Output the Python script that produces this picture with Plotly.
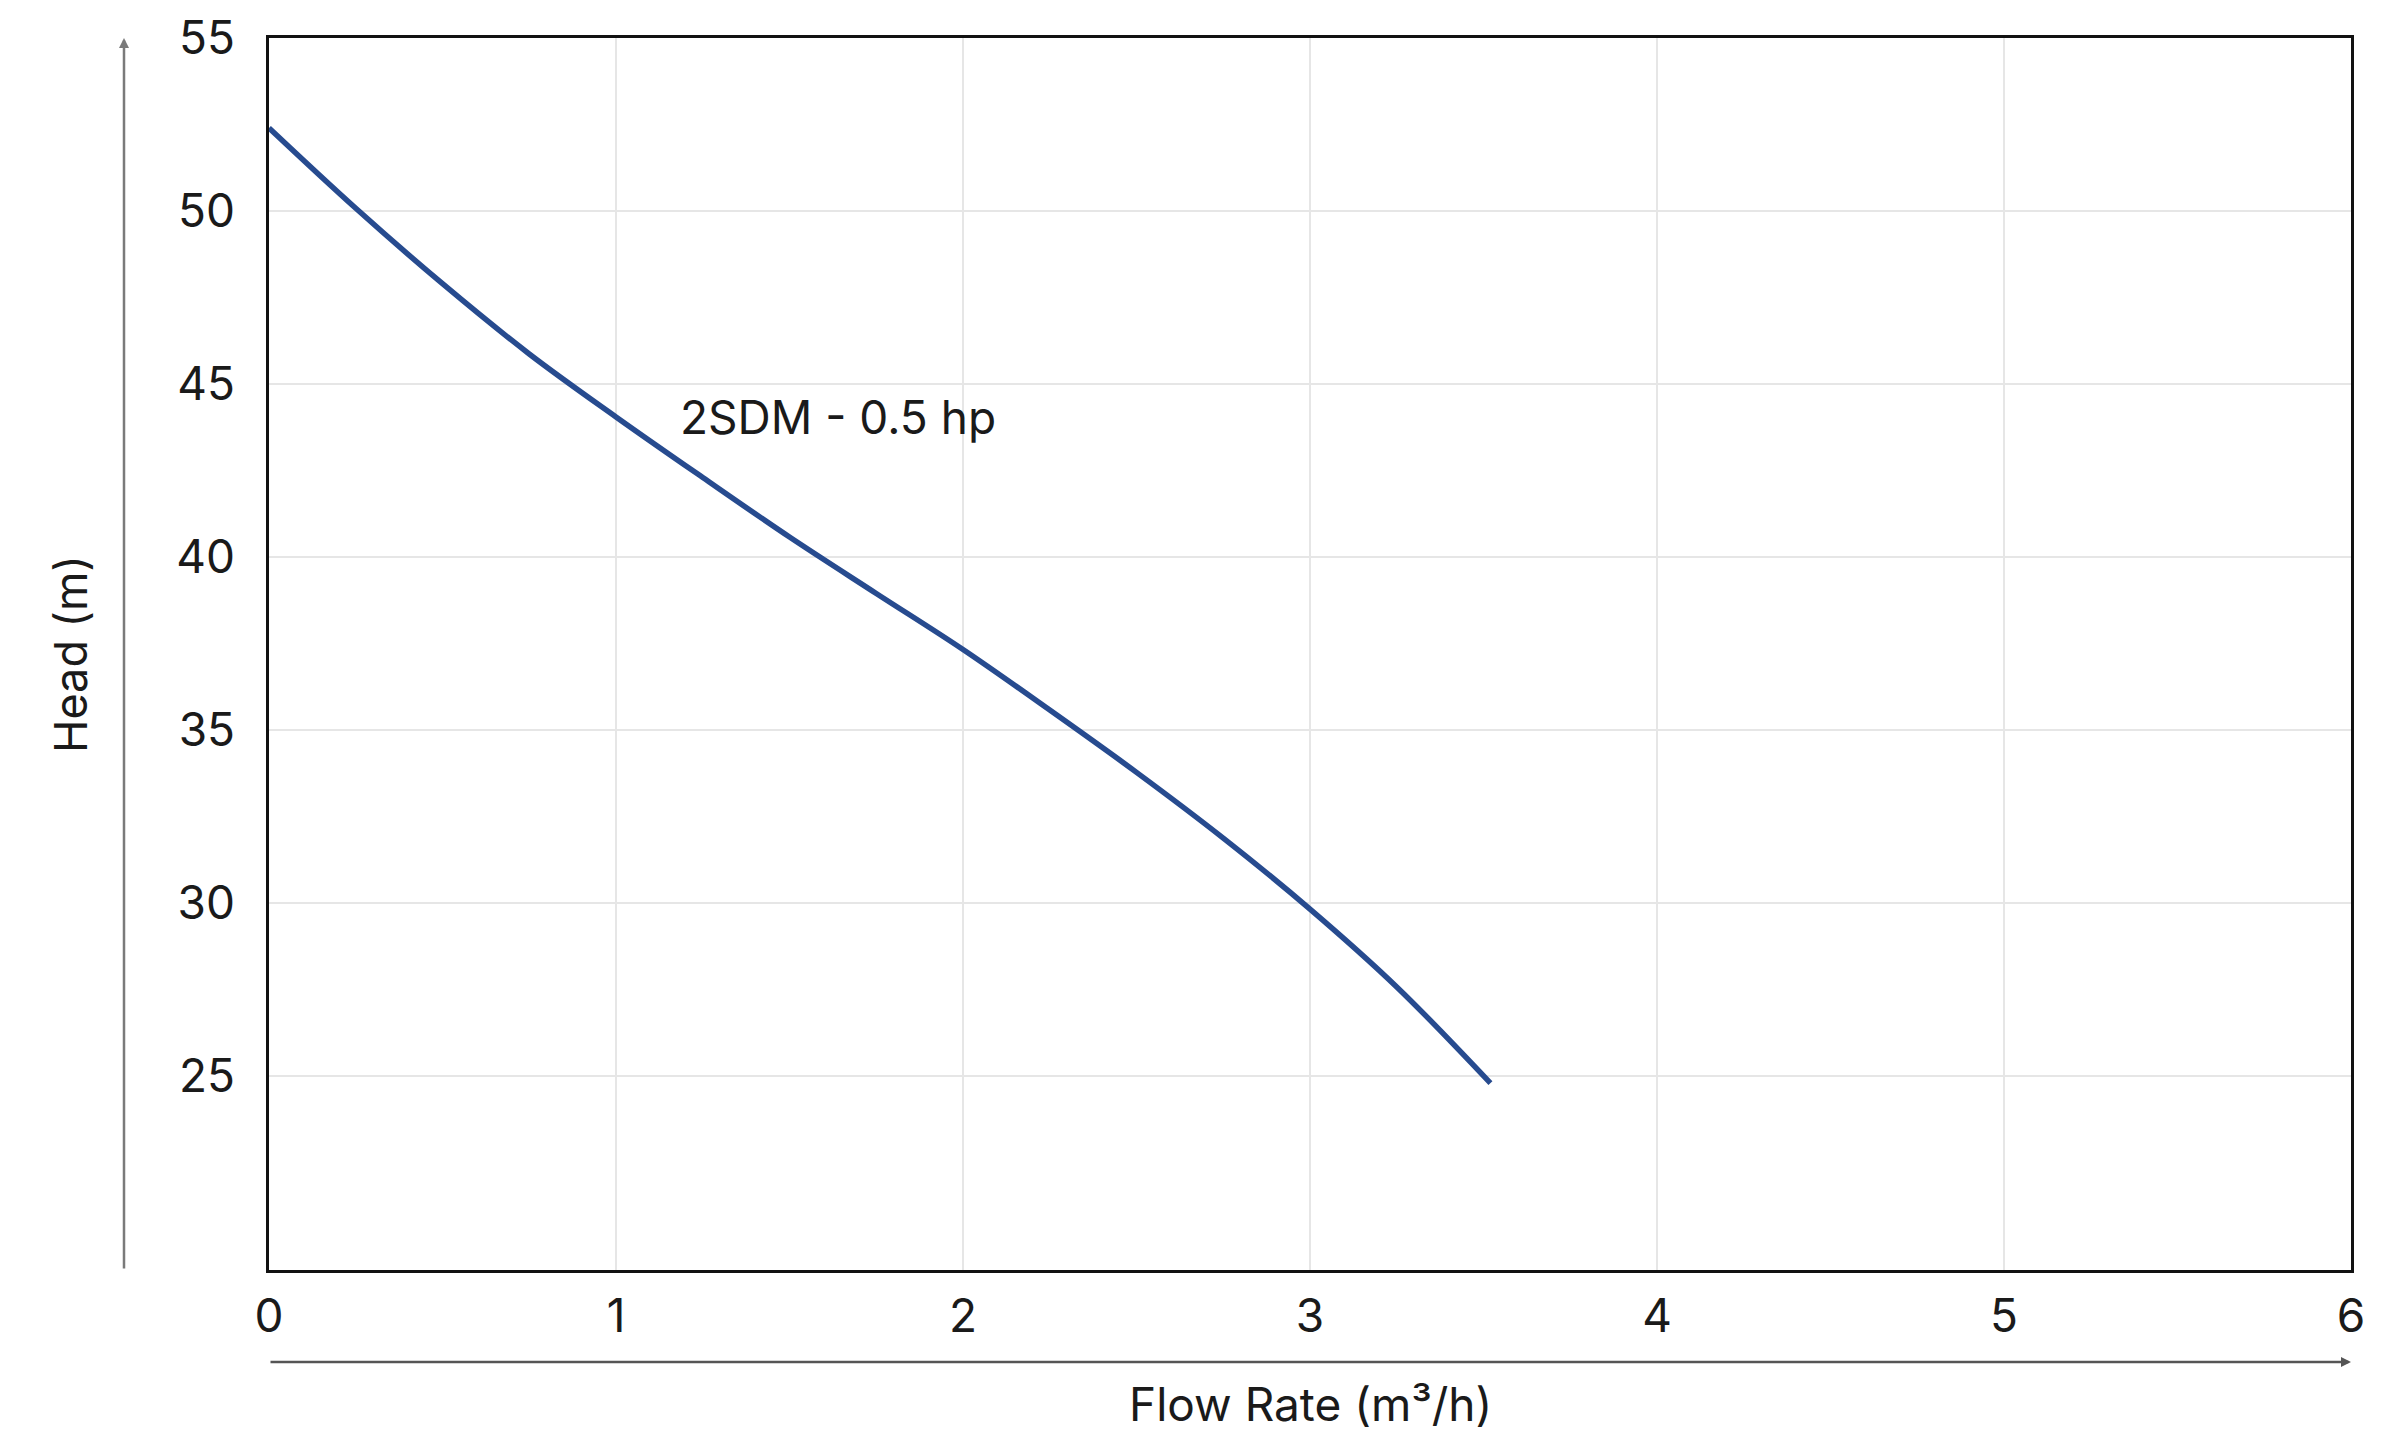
import plotly.graph_objects as go

# Data
flow = [0, 0.25, 0.5, 0.75, 1.0, 1.25, 1.5, 1.75, 2.0, 2.25, 2.5, 2.75, 3.0, 3.25, 3.52]
head = [52.4, 50.08, 47.9, 45.87, 44.05, 42.3, 40.58, 38.95, 37.33, 35.58, 33.78, 31.88, 29.83, 27.58, 24.8]
series_name = "2SDM - 0.5 hp"
x_ticks = [0, 1, 2, 3, 4, 5, 6]
y_ticks = [25, 30, 35, 40, 45, 50, 55]

W, H = 2388, 1437
L, R, T, B = 261, 45, 30, 175
FONT = "Inter"
TXT = "#1a1a1a"

fig = go.Figure()
fig.add_trace(go.Scatter(
    x=flow, y=head, mode="lines", name=series_name,
    line=dict(color="#274b8f", width=5.5, shape="spline", smoothing=1.0),
    hoverinfo="skip", showlegend=False,
))

fig.update_layout(
    width=W, height=H,
    margin=dict(l=L, r=R, t=T, b=B),
    paper_bgcolor="white", plot_bgcolor="white",
    font=dict(family=FONT, size=46, color=TXT),
    xaxis=dict(
        range=[0, 6], tickvals=x_ticks, ticktext=[str(v) for v in x_ticks],
        showgrid=True, gridcolor="#e6e6e6", gridwidth=1.5,
        showline=True, mirror=True, linecolor="#111111", linewidth=2.5,
        zeroline=False, ticks="", ticklen=0, ticklabelstandoff=4,
        ticklabeloverflow="allow",
        tickfont=dict(family=FONT, size=46, color=TXT),
        automargin=False,
    ),
    yaxis=dict(
        range=[19.4, 55], tickvals=y_ticks, ticktext=[str(v) for v in y_ticks],
        showgrid=True, gridcolor="#e6e6e6", gridwidth=1.5,
        showline=True, mirror=True, linecolor="#111111", linewidth=2.5,
        zeroline=False, ticks="", ticklen=0, ticklabelstandoff=22,
        ticklabeloverflow="allow",
        tickfont=dict(family=FONT, size=46, color=TXT),
        automargin=False,
    ),
)

pw = W - L - R
ph = H - T - B

# Series label
fig.add_annotation(x=1.18, y=44.06, xref="x", yref="y", text=series_name,
                   showarrow=False, xanchor="left", yanchor="middle",
                   font=dict(family=FONT, size=46, color=TXT))

# Axis titles
fig.add_annotation(x=(62 - L) / pw, y=0.5, xref="paper", yref="paper",
                   text="Head (m)", textangle=-90, showarrow=False,
                   xanchor="center", yanchor="middle",
                   font=dict(family=FONT, size=45, color=TXT))
fig.add_annotation(x=0.5, y=(H - B - 1396) / ph, xref="paper", yref="paper",
                   text="Flow Rate (m³/h)", showarrow=False,
                   xanchor="center", yanchor="middle",
                   font=dict(family=FONT, size=46, color=TXT))

# Axis arrows
fig.add_annotation(x=(116 - L) / pw, y=1.0, xref="paper", yref="paper",
                   ax=0, ay=ph, axref="pixel", ayref="pixel", text="",
                   showarrow=True, arrowhead=2, arrowsize=0.8, arrowwidth=2.5,
                   arrowcolor="#7a7a7a")
fig.add_annotation(x=1.0, y=(H - B - 1354) / ph, xref="paper", yref="paper",
                   ax=-pw, ay=0, axref="pixel", ayref="pixel", text="",
                   showarrow=True, arrowhead=2, arrowsize=0.8, arrowwidth=2.5,
                   arrowcolor="#555555")

fig.write_html("out.html")
